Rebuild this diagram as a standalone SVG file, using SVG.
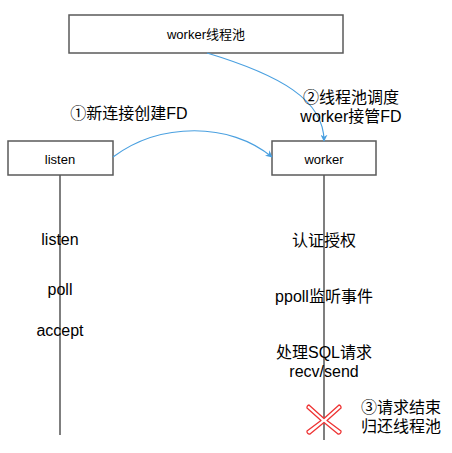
<svg xmlns="http://www.w3.org/2000/svg" width="452" height="453" viewBox="0 0 452 453">
<style>
.box{fill:#fff;stroke:#5a5a5a;stroke-width:1.5}
.life{stroke:#555;stroke-width:1.5;fill:none}
.t{font-family:"Liberation Sans","Noto Sans CJK SC",sans-serif;fill:#000;text-anchor:middle}
.bt{font-size:13px}
.lt{font-size:16px}
.conn{fill:none;stroke:#4aa0e0;stroke-width:1.2}
</style>
<defs>
<marker id="ah" viewBox="0 0 10 10" refX="9" refY="5" markerWidth="7" markerHeight="7" orient="auto" markerUnits="userSpaceOnUse">
<path d="M0,0 L10,5 L0,10 L3,5 Z" fill="#4aa0e0"/>
</marker>
</defs>
<rect width="452" height="453" fill="#fff"/>
<g id="lifelines">
<line class="life" x1="60" y1="175" x2="60" y2="435"/>
<line class="life" x1="324" y1="175" x2="324" y2="440"/>
</g>
<g id="pool">
<rect class="box" x="69" y="15" width="274" height="38"/>
<text class="t bt" x="206" y="39">worker线程池</text>
</g>
<g id="listen">
<rect class="box" x="8" y="141" width="105" height="34"/>
<text class="t bt" x="60" y="164">listen</text>
<text class="t lt" x="60" y="245">listen</text>
<text class="t lt" x="60" y="295">poll</text>
<text class="t lt" x="60" y="336">accept</text>
</g>
<g id="worker">
<rect class="box" x="272" y="141" width="104" height="34"/>
<text class="t bt" x="324" y="164">worker</text>
<text class="t lt" x="324" y="246">认证授权</text>
<text class="t lt" x="324" y="302">ppoll监听事件</text>
<text class="t lt" x="324" y="358">处理SQL请求</text>
<text class="t lt" x="324" y="377">recv/send</text>
</g>
<g id="end">
<path d="M309,405 L324,418.5 L339,405 A2.5,2.5 0 0 1 341,408 L327,420.5 L341,431 A2.5,2.5 0 0 1 338,434 L324,422.5 L310,434 A2.5,2.5 0 0 1 307,431 L321,420.5 L307,408 A2.5,2.5 0 0 1 309,405 Z" fill="#fff" stroke="#e33" stroke-width="1.3" stroke-linejoin="round"/>
</g>
<g id="connectors">
<path class="conn" d="M113,157 C160,122 230,122 272,157" marker-end="url(#ah)"/>
<path class="conn" d="M207,53 C280,75 324,100 324,141" marker-end="url(#ah)"/>
</g>
<g id="labels">
<text class="t lt" x="129" y="119">①新连接创建FD</text>
<text class="t lt" x="351" y="103">②线程池调度</text>
<text class="t lt" x="351" y="122">worker接管FD</text>
<text class="t lt" x="401" y="413">③请求结束</text>
<text class="t lt" x="401" y="432">归还线程池</text>
</g>
</svg>
